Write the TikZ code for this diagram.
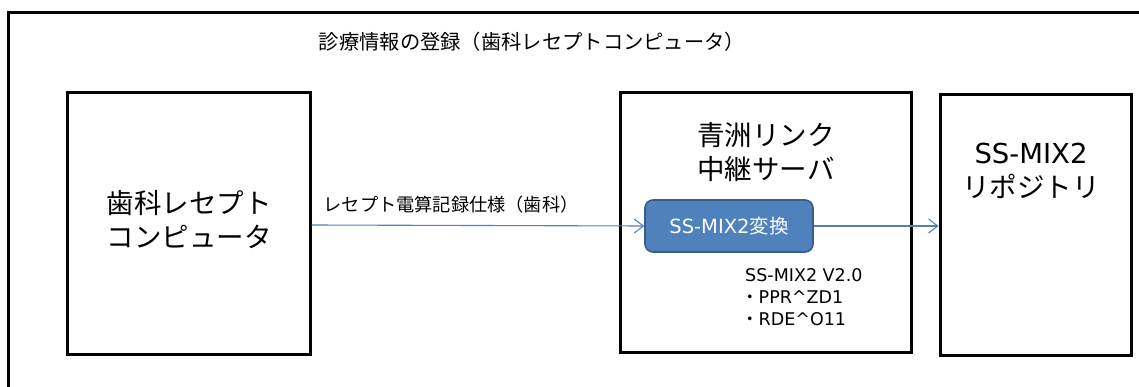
\documentclass[tikz,border=0pt]{standalone}
\usepackage{fontspec}
\setmainfont{Noto Sans CJK JP}
\newfontfamily\lat{DejaVu Sans}
\usetikzlibrary{arrows.meta}
\definecolor{blu}{HTML}{4F81BD}
\definecolor{bluedge}{HTML}{385D8A}
\tikzset{
  bigbox/.style={draw=black,line width=3pt,inner sep=0pt},
  lbl/.style={font=\fontsize{27.5}{34}\selectfont,align=center,inner sep=0pt},
  conn/.style={draw=blu,line width=1.1pt,-{Straight Barb[length=9pt,width=14pt,line width=1.1pt]}},
}
\begin{document}
\begin{tikzpicture}[x=1pt,y=-1pt]
\useasboundingbox (0,0) rectangle (1139,387);
% outer frame
\draw[line width=3pt] (8.5,395) -- (8.5,13) -- (1145,13);
\node[inner sep=0pt,font=\fontsize{20.3}{24}\selectfont] (title) at (532,42) {診療情報の登録（歯科レセプトコンピュータ）};
% boxes
\node[bigbox,minimum width=243pt,minimum height=261pt] (left) at (188.5,223.5) {};
\node[bigbox,minimum width=291pt,minimum height=259pt] (mid) at (765.5,222.5) {};
\node[bigbox,minimum width=191pt,minimum height=260pt] (right) at (1035.5,225) {};
\node[lbl] (lefttxt) at (189,220) {歯科レセプト\\コンピュータ};
\node[lbl] (midtxt) at (766,152) {青洲リンク\\中継サーバ};
\node[lbl] (righttxt) at (1031,171) {{\lat SS-MIX2}\\リポジトリ};
% conversion box
\node[draw=bluedge,fill=blu,line width=1.6pt,rounded corners=8pt,minimum width=168pt,minimum height=52pt,inner sep=0pt,text=white,font=\fontsize{19.5}{23}\selectfont] (conv) at (729,226) {{\lat SS-MIX2}変換};
% connectors
\coordinate (a1) at (left.east |- 0,225);
\draw[conn] (a1) -- (conv.west);
\draw[conn] (conv.east) -- (right.west |- conv.east);
\node[inner sep=0pt,font=\fontsize{18.2}{22}\selectfont] (arrlbl) at (451,205) {レセプト電算記録仕様（歯科）};
\node[anchor=west,inner sep=0pt,font=\fontsize{17.5}{21}\selectfont\lat] (spec1) at (745,275) {SS-MIX2 V2.0};
\node[anchor=west,inner sep=0pt,font=\fontsize{17.5}{21}\selectfont] (spec2) at (741,297) {・{\lat PPR\textasciicircum ZD1}};
\node[anchor=west,inner sep=0pt,font=\fontsize{17.5}{21}\selectfont] (spec3) at (741,319) {・{\lat RDE\textasciicircum O11}};
\end{tikzpicture}
\end{document}
